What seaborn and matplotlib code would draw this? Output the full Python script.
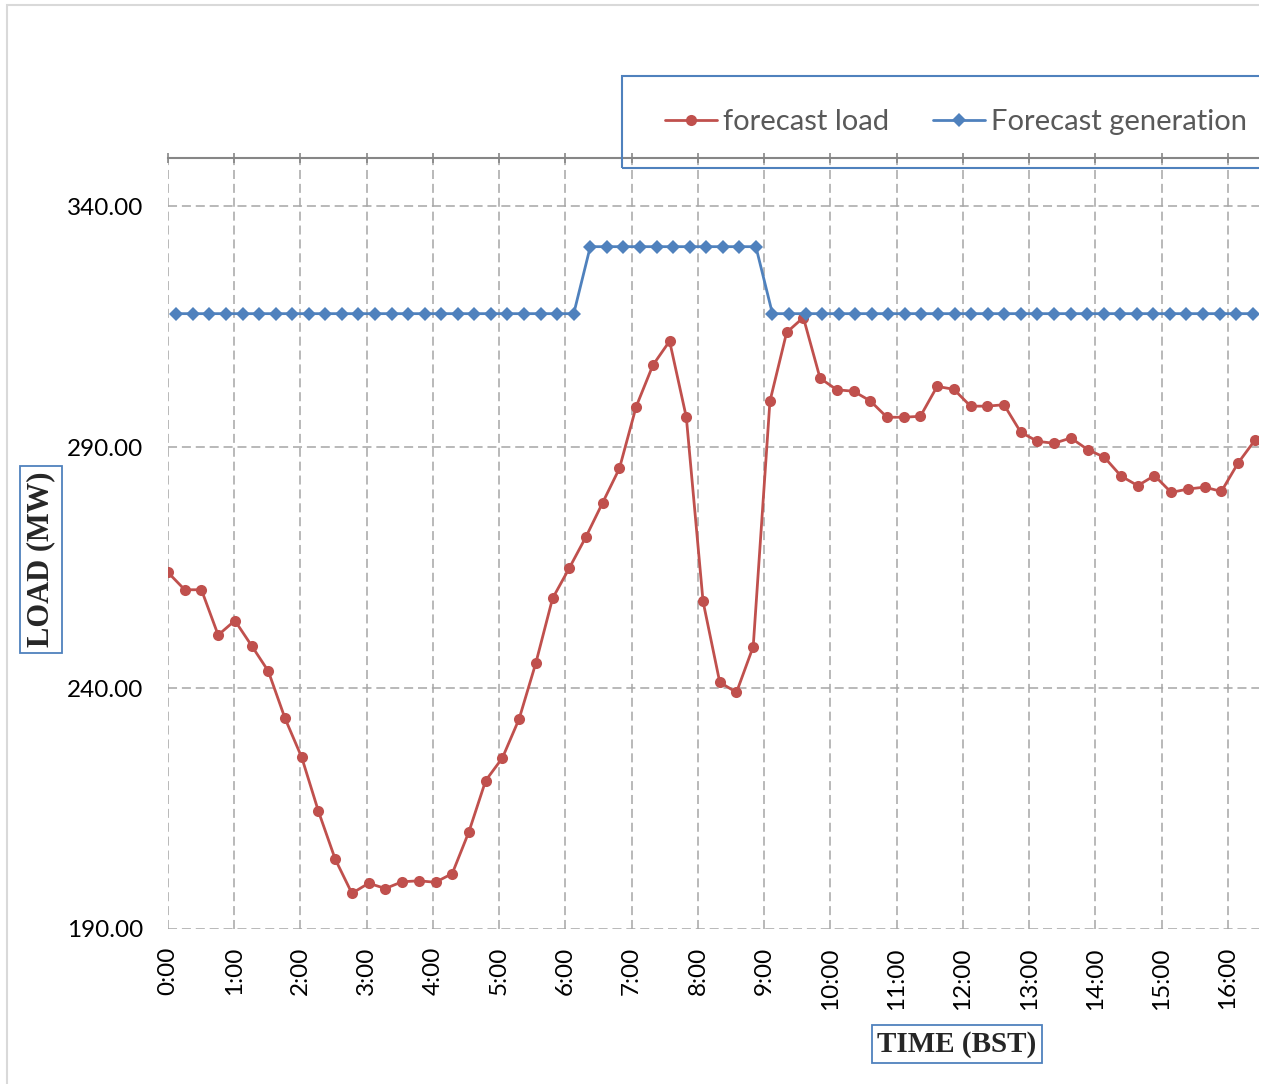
#forecast load vs forecast generation, 15 minute slots, redone from the excel chart
#red series sits on the primary category axis (points on tick marks)
#blue series sits on the secondary (top) axis, points between tick marks
import numpy as np
import pandas as pd
import matplotlib
matplotlib.use('Agg')
import matplotlib.pyplot as plt
import seaborn as sns
from matplotlib.patches import Rectangle

#data (MW), one value per 15 min starting 0:00
forecast_load = [
    264.0, 260.4, 260.4, 251.0, 254.0, 248.8, 243.5, 233.7, 225.6, 214.4,
    204.5, 197.4, 199.5, 198.4, 199.8, 200.0, 199.7, 201.5, 210.2, 220.8,
    225.5, 233.6, 245.2, 258.6, 264.9, 271.4, 278.5, 285.6, 298.4, 307.0,
    312.0, 296.2, 258.0, 241.2, 239.1, 248.6, 299.5, 313.8, 316.9, 304.3,
    301.9, 301.6, 299.6, 296.2, 296.2, 296.4, 302.6, 302.0, 298.5, 298.5,
    298.8, 293.1, 291.2, 290.8, 291.9, 289.5, 287.9, 284.0, 282.0, 284.1,
    280.6, 281.3, 281.7, 280.8, 286.7, 291.4,
]
forecast_gen = [
    317.7, 317.7, 317.7, 317.7, 317.7, 317.7, 317.7, 317.7, 317.7, 317.7,
    317.7, 317.7, 317.7, 317.7, 317.7, 317.7, 317.7, 317.7, 317.7, 317.7,
    317.7, 317.7, 317.7, 317.7, 317.7, 331.6, 331.6, 331.6, 331.6, 331.6,
    331.6, 331.6, 331.6, 331.6, 331.6, 331.6, 317.7, 317.7, 317.7, 317.7,
    317.7, 317.7, 317.7, 317.7, 317.7, 317.7, 317.7, 317.7, 317.7, 317.7,
    317.7, 317.7, 317.7, 317.7, 317.7, 317.7, 317.7, 317.7, 317.7, 317.7,
    317.7, 317.7, 317.7, 317.7, 317.7, 317.7,
]
hour_labels = ['0:00', '1:00', '2:00', '3:00', '4:00', '5:00', '6:00', '7:00', '8:00',
               '9:00', '10:00', '11:00', '12:00', '13:00', '14:00', '15:00', '16:00']
y_ticks = [190, 240, 290, 340]

df_load = pd.DataFrame({'slot': np.arange(len(forecast_load)), 'load': forecast_load})
#between tick marks -> half a slot in
df_gen = pd.DataFrame({'slot': np.arange(len(forecast_gen)) + 0.5, 'gen': forecast_gen})

red = '#C0504D'
blue = '#4F81BD'
grid_col = '#A6A6A6'

#figure layout in pixels (1267 x 1084 @ 100 dpi)
W, H = 1267, 1084
plot_l, plot_r, plot_t, plot_b = 168, 1259, 158, 929
blue_step = 16.56   # px per slot on the top axis
red_step = 16.72    # px per slot on the bottom axis

sns.set_theme(style='white')
plt.rcParams['font.family'] = ['Lato', 'DejaVu Sans']
plt.rcParams['lines.scale_dashes'] = False

fig = plt.figure(figsize=(W / 100, H / 100), dpi=100)

#light chart border (only top/left show in the crop)
fig.add_artist(Rectangle((7 / W, -0.1), 1.2, 1 - 5 / H + 0.1, transform=fig.transFigure,
                         fill=False, ec='#D9D9D9', lw=1.5))

ax = fig.add_axes([plot_l / W, 1 - plot_b / H, (plot_r - plot_l) / W, (plot_b - plot_t) / H])
ax_r = ax.twiny()
ax_b = ax.twiny()

n_blue = (plot_r - plot_l) / blue_step
n_red = (plot_r - plot_l) / red_step

#base axis: grid + labels
ax.set_xlim(0, n_blue)
ax.set_ylim(190, 350)
ax.set_xticks(range(0, 4 * len(hour_labels), 4))
ax.set_xticklabels(hour_labels, rotation=90)
ax.set_yticks(y_ticks)
ax.set_yticklabels([f'{v:.2f}' for v in y_ticks])
ax.grid(True, linestyle=(0, (6.5, 3.5)), color=grid_col, linewidth=1.1)
for s in ax.spines.values():
    s.set_visible(False)
ax.tick_params(axis='x', length=0, pad=13, labelsize=17.5, labelcolor='black')
ax.tick_params(axis='y', length=0, pad=18, labelsize=17.5, labelcolor='black')

#red series
sns.lineplot(data=df_load, x='slot', y='load', ax=ax_r, color=red, linewidth=2.0,
             marker='o', markersize=8, markeredgewidth=0, label='forecast load', legend=False)
ax_r.set_xlim(0, n_red)
ax_r.set_xticks([])
ax_r.set_xlabel('')
ax_r.set_ylabel('')
for s in ax_r.spines.values():
    s.set_visible(False)

#blue series on the top axis
sns.lineplot(data=df_gen, x='slot', y='gen', ax=ax_b, color=blue, linewidth=2.0,
             marker='D', markersize=7, markeredgewidth=0, label='Forecast generation', legend=False)
ax_b.set_xlim(0, n_blue)
ax_b.set_xticks(range(0, 4 * len(hour_labels), 4))
ax_b.set_xticklabels([])
ax_b.set_xlabel('')
ax_b.set_ylabel('')
for name, s in ax_b.spines.items():
    s.set_visible(name == 'top')
ax_b.spines['top'].set_color('#868686')
ax_b.spines['top'].set_linewidth(1.5)
ax_b.tick_params(axis='x', top=True, bottom=False, direction='inout', length=7, width=1.2,
                 color='#868686', labeltop=False)
ax.set_ylim(190, 350)

#legend + its box
h_r = ax_r.get_lines()[0]
h_b = ax_b.get_lines()[0]
fig.legend(handles=[h_r, h_b], labels=['forecast load', 'Forecast generation'],
           loc='center', bbox_to_anchor=(956 / W, 1 - 122 / H), ncol=2, frameon=False,
           fontsize=21, handlelength=1.8, handletextpad=0.2, columnspacing=1.5,
           labelcolor='#595959')
fig.add_artist(Rectangle((622 / W, 1 - 168 / H), 1.0, 92 / H, transform=fig.transFigure,
                         fill=False, ec=blue, lw=1.5))

#the original is cropped at the right, blank strip after it
fig.add_artist(Rectangle((plot_r / W, 0), 1.0, 1.0, transform=fig.transFigure,
                         fc='white', ec='none', zorder=10))

#axis titles in boxes
box = dict(boxstyle='square,pad=0.2', fc='white', ec=blue, lw=1.3)
fig.text(41 / W, 1 - 559.5 / H, 'LOAD (MW)', rotation=90, ha='center', va='center',
         fontsize=22, fontweight='bold', family='Liberation Serif', bbox=box)
fig.text(957 / W, 1 - 1044 / H, 'TIME (BST)', ha='center', va='center',
         fontsize=21, fontweight='bold', family='Liberation Serif', bbox=box)

fig.savefig('out.png', dpi=100)
